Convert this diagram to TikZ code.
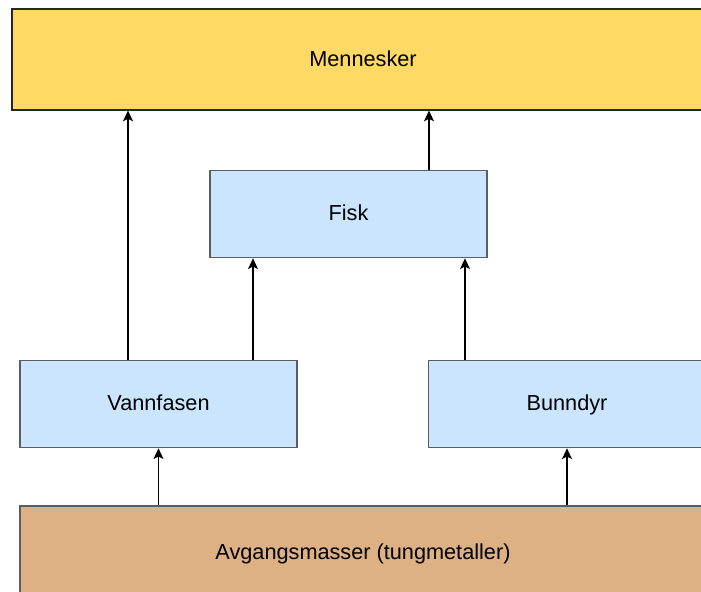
\documentclass[tikz,border=0pt]{standalone}
\usepackage{fontspec}
\setmainfont{Liberation Sans}
\usetikzlibrary{arrows.meta,positioning}
\definecolor{humanYellow}{HTML}{FFD966}
\definecolor{bioBlue}{HTML}{CCE5FF}
\definecolor{tailBrown}{HTML}{DDB184}
\definecolor{edgeGray}{HTML}{5A5E63}
\begin{document}
\begin{tikzpicture}[x=0.5pt, y=-0.5pt, line width=0.55pt,
        ->, >={Stealth[length=5.4pt, width=5pt, inset=1.3pt]},
        font=\fontsize{10.85}{13}\selectfont]
        \tikzset{
           human/.style={
                        rectangle,
                        draw=black!85,
                        fill=humanYellow,
                        text=black,
                        text height=0.9em,
                        text depth=0.2em,
                        minimum width=351pt,
                        minimum height=50.5pt
                       },
           biota/.style={
                        rectangle,
                        draw=edgeGray,
                        fill=bioBlue,
                        text=black,
                        text height=0.9em,
                        text depth=0.2em,
                        minimum width=138.5pt,
                        minimum height=43.75pt
                       },
           tailings/.style={
                        rectangle,
                        draw=edgeGray,
                        fill=tailBrown,
                        text=black,
                        text height=0.9em,
                        text depth=0.2em,
                        minimum width=343pt,
                        minimum height=47pt
                       },
                 };
    \useasboundingbox (0,0) rectangle (701,592);
    %--------------------
        \node[human]    (mennesker) at (363,59.5)  {Mennesker};

        \node[biota]    (fisk)      at (348.5,214) {Fisk};

        \node[biota]    (vannfasen) at (158.5,404) {Vannfasen};
        \node[biota]    (bunndyr)   at (567,404)   {Bunndyr};

        \node[tailings] (avgang)    at (363,553)   {Avgangsmasser (tungmetaller)};
    %--------------------
        \path (vannfasen.north) ++(-15.25pt,0) coordinate (vannMenn)
              (vannfasen.north) ++(47.25pt,0)  coordinate (vannFisk)
              (fisk.north)      ++(40.25pt,0)  coordinate (fiskMenn)
              (bunndyr.north)   ++(-51pt,0)    coordinate (bunnFisk);

        \path (vannMenn)       edge (vannMenn |- mennesker.south)
              (vannFisk)       edge (vannFisk |- fisk.south)
              (fiskMenn)       edge (fiskMenn |- mennesker.south)
              (bunnFisk)       edge (bunnFisk |- fisk.south)

              (avgang.north -| vannfasen.south) edge (vannfasen.south)
              (avgang.north -| bunndyr.south)   edge (bunndyr.south);
    \end{tikzpicture}
\end{document}
